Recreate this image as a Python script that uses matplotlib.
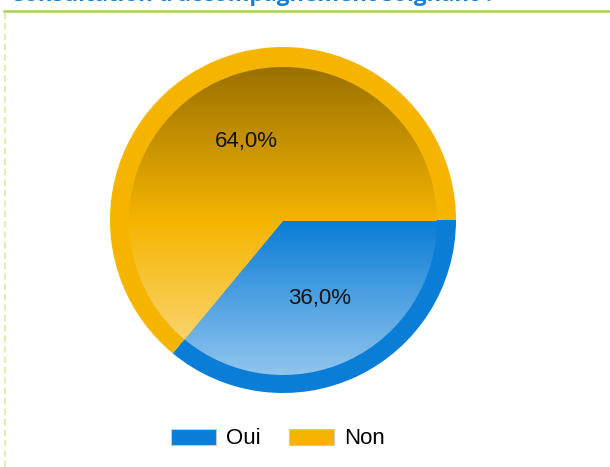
import matplotlib
matplotlib.use("Agg")
import matplotlib.pyplot as plt
import numpy as np
from matplotlib.colors import to_rgb
from matplotlib.patches import Rectangle
from matplotlib.lines import Line2D

plt.rcParams["font.family"] = ["Liberation Sans", "DejaVu Sans"]

# data
categories = ["Oui", "Non"]
values = [36.0, 64.0]
slice_colors = ["#0a7dd6", "#f5b400"]
title = "Consultation d'accompagnement soignant ?"

W, H = 610, 467
fig = plt.figure(figsize=(W / 100, H / 100), dpi=100)
fig.patch.set_facecolor("white")
ax = fig.add_axes([0, 0, 1, 1])

cx, cy = 283, H - 220
r_outer, r_inner = 173, 154


def pct_label(p):
    return f"{p:.1f}%".replace(".", ",")


# outer ring, flat colours
outer, _, autotexts = ax.pie(
    values, colors=slice_colors, startangle=0, counterclock=False,
    radius=r_outer, center=(cx, cy), autopct=pct_label, pctdistance=0.5,
    wedgeprops=dict(linewidth=0), textprops=dict(fontsize=16, color="#141414"),
)
for t in autotexts:
    t.set_zorder(10)

# inner disc with vertical gradient (dark at top, light at bottom)
inner, _ = ax.pie(
    values, colors=slice_colors, startangle=0, counterclock=False,
    radius=r_inner, center=(cx, cy - 1), wedgeprops=dict(linewidth=0),
)
v = np.linspace(-1, 1, 256)
for wedge, col in zip(inner, slice_colors):
    base = np.array(to_rgb(col))
    img = np.zeros((256, 1, 3))
    for i, t in enumerate(v):
        if t >= 0:
            img[i, 0] = base * (1 - 0.37 * t)
        else:
            img[i, 0] = base + (1 - base) * 0.55 * (-t)
    wedge.set_facecolor("none")
    im = ax.imshow(img, extent=(cx - r_inner, cx + r_inner, cy - 1 - r_inner, cy - 1 + r_inner),
                   origin="lower", aspect="auto", zorder=3, interpolation="bilinear")
    im.set_clip_path(wedge)

ax.set_xlim(0, W)
ax.set_ylim(0, H)
ax.set_aspect("equal")
ax.axis("off")

# header: cut-off title, green rule, dotted left border
fig.text(10 / W, 1 - 0.5 / H, title, fontsize=16, fontweight="bold",
         family=["Open Sans", "DejaVu Sans"], color="#1a7fd2", va="baseline", ha="left")
fig.add_artist(Line2D([4 / W, 1], [1 - 10.5 / H] * 2, color="#a8d05a", linewidth=1.8))
fig.add_artist(Line2D([5 / W, 5 / W], [0, 1 - 12 / H], color="#e2ecb4",
                      linewidth=1.5, linestyle=(0, (3, 2))))

# legend
handles = [Rectangle((0, 0), 1, 1, facecolor=c, edgecolor="#c8c8c8", linewidth=0.8)
           for c in slice_colors]
fig.legend(handles, categories, loc="center", bbox_to_anchor=(278 / W, 1 - 439 / H),
           ncol=2, frameon=False, fontsize=16, handlelength=2.03, handleheight=0.72,
           handletextpad=0.45, columnspacing=1.26)

fig.savefig("out.png", dpi=100, facecolor="white")
